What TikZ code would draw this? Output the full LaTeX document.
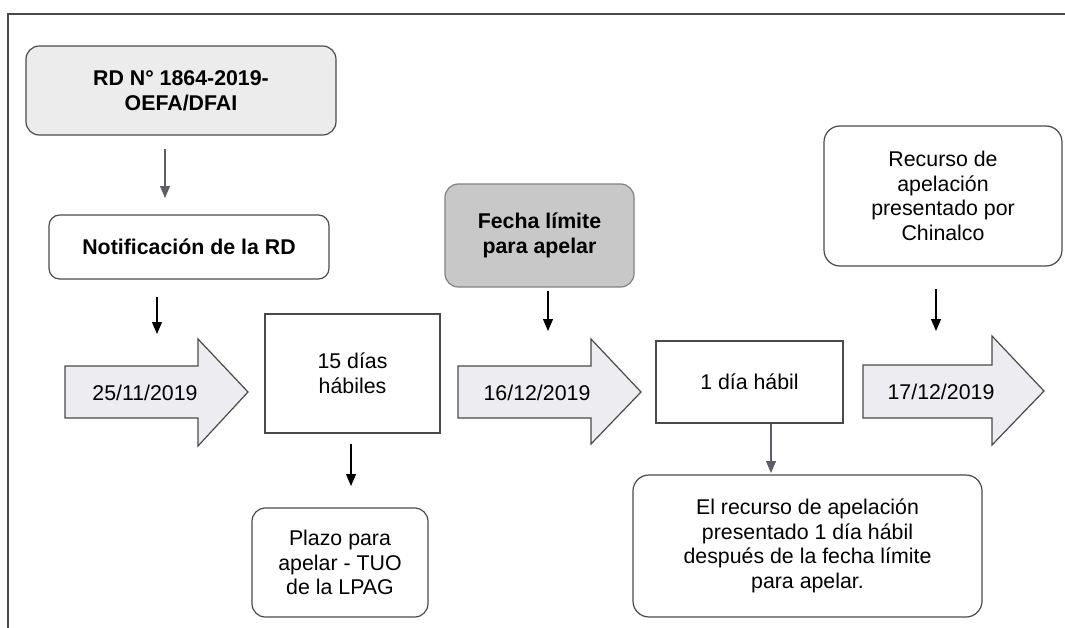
\documentclass[tikz,border=0pt]{standalone}
\usepackage{fontspec}
\setmainfont{Liberation Sans}
\usetikzlibrary{arrows.meta}
\definecolor{edgec}{HTML}{4A4A4A}
\definecolor{lightfill}{HTML}{ECECEC}
\definecolor{darkfill}{HTML}{C8C8C8}
\definecolor{arrfill}{HTML}{EDEDF1}
\definecolor{grayarr}{HTML}{5E5E66}
\tikzset{
  box/.style={draw=edgec, line width=0.9pt, fill=white, align=center, inner sep=0pt,
    font=\fontsize{16}{18.5}\selectfont},
  rbox/.style={box, rounded corners=10pt},
  bold/.style={font=\fontsize{16}{18.5}\selectfont\bfseries},
  blockarrow/.style={draw=edgec, line width=0.9pt, fill=arrfill, line join=miter},
  datetext/.style={inner sep=0pt, font=\fontsize{16}{18.5}\selectfont},
  conn/.style={line width=0.8pt, -{Triangle[length=9pt,width=7.5pt]}},
  frame/.style={draw=edgec, line width=1.1pt}
}
\begin{document}
\begin{tikzpicture}[x=0.75pt, y=-0.75pt]
\useasboundingbox (0,0) rectangle (1065,628);
% frame
\draw[frame] (8,628) -- (8,14) -- (1065,14);

% boxes
\node[rbox, bold, fill=lightfill, minimum width=232.5pt, minimum height=66.75pt] (rd) at (181,90.5) {RD N° 1864-2019-\\OEFA/DFAI};
\node[rbox, bold, rounded corners=8pt, minimum width=210pt, minimum height=48pt] (notif) at (189,247) {Notificación de la RD};
\node[rbox, bold, fill=darkfill, draw=gray, minimum width=141.75pt, minimum height=77.25pt] (fecha) at (539.5,235.5) {Fecha límite\\para apelar};
\node[rbox, rounded corners=12pt, minimum width=178.5pt, minimum height=105pt] (recurso) at (943,196) {Recurso de\\apelación\\presentado por\\Chinalco};
\node[box, minimum width=131.25pt, minimum height=89.25pt] (quince) at (352.5,373.5) {15 días\\hábiles};
\node[rbox, minimum width=132pt, minimum height=81.75pt] (plazo) at (340,562.5) {Plazo para\\apelar - TUO\\de la LPAG};
\node[box, minimum width=140.25pt, minimum height=61.5pt] (unodia) at (749.5,382) {1 día hábil};
\node[rbox, rounded corners=12pt, minimum width=261.75pt, minimum height=106.5pt] (elrec) at (807.5,546) {El recurso de apelación\\presentado 1 día hábil\\después de la fecha límite\\para apelar.};

% block arrows
\draw[blockarrow] (65,366) -- (198,366) -- (198,339) -- (248,392) -- (198,446) -- (198,418) -- (65,418) -- cycle;
\node[datetext] (d1) at (145,393) {25/11/2019};
\draw[blockarrow] (458,366) -- (591,366) -- (591,339) -- (641,392) -- (591,444) -- (591,418) -- (458,418) -- cycle;
\node[datetext] (d2) at (537,393) {16/12/2019};
\draw[blockarrow] (863,365) -- (992,365) -- (992,336) -- (1044,391) -- (992,445) -- (992,418) -- (863,418) -- cycle;
\node[datetext] (d3) at (941,392) {17/12/2019};

% arrow end points
\coordinate (e1) at (165,198);
\coordinate (e2) at (157,334);
\coordinate (e3) at (548,331);
\coordinate (e4) at (936,331);
\coordinate (e5) at (351,486);
\coordinate (e6) at (771,473);

% connectors
\draw[conn, draw=grayarr, fill=grayarr] ([yshift=-10pt]rd.south -| e1) -- (e1);
\draw[conn] ([yshift=-13pt]notif.south -| e2) -- (e2);
\draw[conn] ([yshift=-2.5pt]fecha.south -| e3) -- (e3);
\draw[conn] ([yshift=-17pt]recurso.south -| e4) -- (e4);
\draw[conn] ([yshift=-8pt]quince.south -| e5) -- (e5);
\draw[conn, draw=grayarr, fill=grayarr] (unodia.south -| e6) -- (e6);
\end{tikzpicture}
\end{document}
